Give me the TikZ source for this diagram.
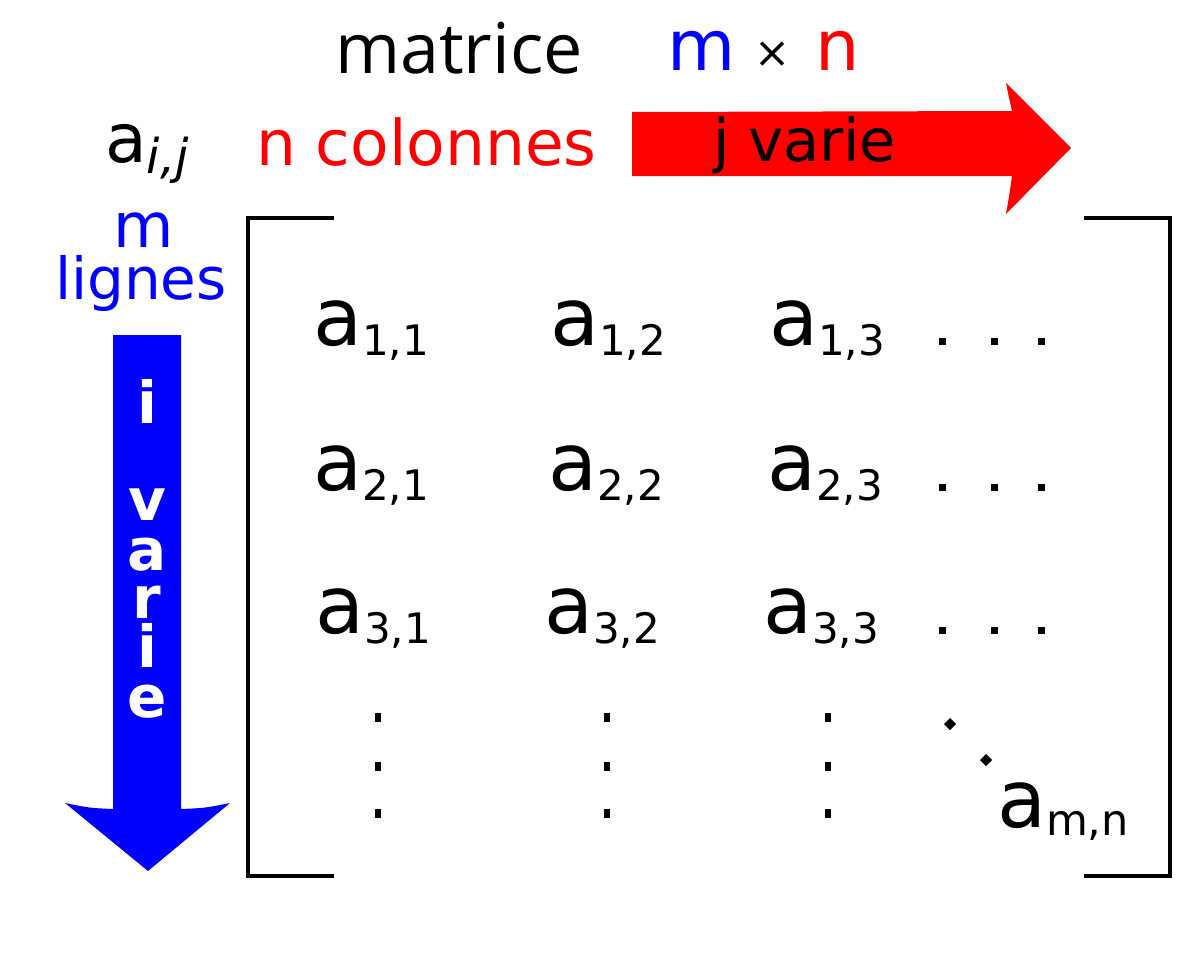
\documentclass[tikz,border=0pt]{standalone}
\usepackage{fontspec}
\setmainfont{DejaVu Sans}
\newfontfamily\osans{Open Sans}
\definecolor{pureblue}{RGB}{0,0,255}
\definecolor{purered}{RGB}{255,0,0}
\newcommand{\fs}[1]{\fontsize{#1}{#1}\selectfont}
\newcommand{\entry}[1]{a\raisebox{-10pt}{\fs{42}#1}}
\tikzset{
  txt/.style={anchor=base west, inner sep=0pt, outer sep=0pt},
  big/.style={txt, font=\fs{80}},
  vl/.style={anchor=base, inner sep=0pt, text=white, font=\fs{58}\bfseries},
  hdot/.style={rectangle, fill=black, inner sep=0pt, minimum width=7pt, minimum height=7pt},
  vdot/.style={rectangle, fill=black, inner sep=0pt, minimum width=6pt, minimum height=9pt},
  ddot/.style={rectangle, fill=black, inner sep=0pt, minimum size=8.5pt, rotate=45},
  brk/.style={line width=4.5pt}
}
\begin{document}
\begin{tikzpicture}[x=1pt,y=-1pt]
\useasboundingbox (0,0) rectangle (1200,972);
% arrows
\fill[purered] (632,112) -- (1012,111) .. controls (1009,98) .. (1006,83) -- (1071,148) -- (1006,214) .. controls (1009,197) .. (1012,176) -- (632,176) -- cycle;
\fill[pureblue] (113,335) -- (181,335) -- (181,809) .. controls (205,808) .. (230,803) -- (148,871) -- (65,803) .. controls (90,808) .. (113,809) -- cycle;
% title
\node[txt, font=\fs{70}\osans] (title) at (335,73) {matrice};
\node[txt, font=\fs{70}, text=pureblue] (tm) at (667,70) {m};
\node[txt, font=\fs{43}] (times) at (754,67) {×};
\node[txt, font=\fs{70}, text=purered] (tn) at (815,70) {n};
% a_ij
\node[txt, font=\fs{68}] (aij) at (105,162) {a\raisebox{-11pt}{\fs{48}\itshape i,j}};
\node[txt, font=\fs{63}, text=purered] (ncol) at (256,165) {n colonnes};
\node[txt, font=\fs{59}] (jvarie) at (713,161) {j varie};
\node[txt, font=\fs{62}, text=pureblue] (mlab) at (113,247) {m};
\node[txt, font=\fs{58}, text=pureblue] (lignes) at (55,299) {lignes};
% i varie
\node[vl] (iv1) at (147,423) {i};
\node[vl] (iv2) at (147,520) {v};
\node[vl] (iv3) at (147,570) {a};
\node[vl] (iv4) at (147,618) {r};
\node[vl] (iv5) at (147,667) {i};
\node[vl] (iv6) at (147,717) {e};
% brackets
\draw[brk] (334,218) -- (248,218) -- (248,876) -- (334,876);
\draw[brk] (1084,218) -- (1170,218) -- (1170,876) -- (1084,876);
% entries
\node[big] (a11) at (313,345) {\entry{1,1}};
\node[big] (a12) at (550,345) {\entry{1,2}};
\node[big] (a13) at (769,345) {\entry{1,3}};
\node[big] (a21) at (313,490) {\entry{2,1}};
\node[big] (a22) at (548,490) {\entry{2,2}};
\node[big] (a23) at (767,490) {\entry{2,3}};
\node[big] (a31) at (315,633) {\entry{3,1}};
\node[big] (a32) at (544,633) {\entry{3,2}};
\node[big] (a33) at (763,633) {\entry{3,3}};
\node[big] (amn) at (997,827) {a\raisebox{-8pt}{\fs{43}m,n}};
% horizontal dots
\foreach \r/\y in {1/341,2/487,3/630}{
  \node[hdot] (h\r a) at (942,\y) {};
  \node[hdot] (h\r b) at (994,\y) {};
  \node[hdot] (h\r c) at (1041,\y) {};
}
% vertical dots
\foreach \c/\x in {1/378,2/607,3/828}{
  \node[vdot] (v\c a) at (\x,717) {};
  \node[vdot] (v\c b) at (\x,766) {};
  \node[vdot] (v\c c) at (\x,813) {};
}
% diagonal dots
\node[ddot] (d1) at (950,724) {};
\node[ddot] (d2) at (986,760) {};
\end{tikzpicture}
\end{document}
